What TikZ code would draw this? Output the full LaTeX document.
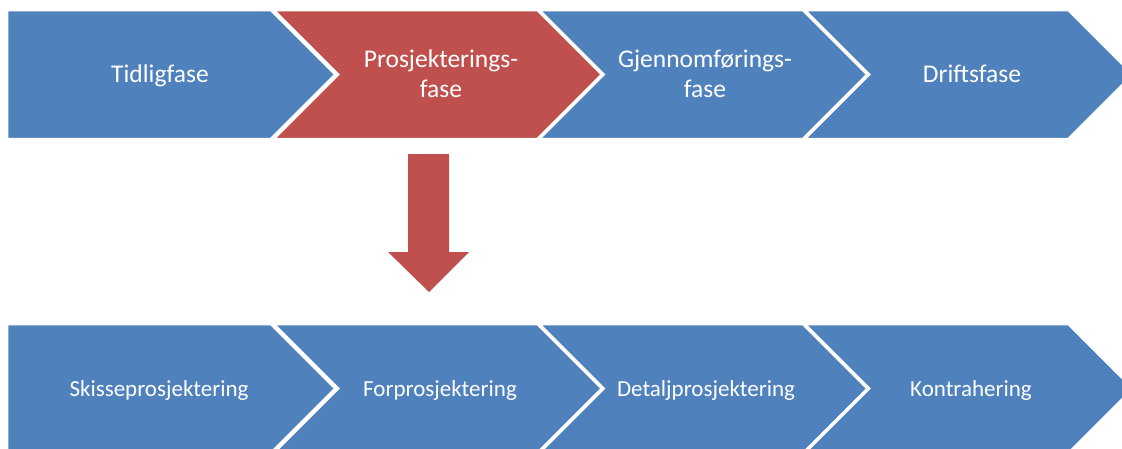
\documentclass[tikz,border=0pt]{standalone}
\usepackage{fontspec}
\setmainfont{Carlito}
\definecolor{phaseblue}{HTML}{4F81BD}
\definecolor{phasered}{HTML}{C0504D}
\begin{document}
\begin{tikzpicture}[x=1pt,y=-1pt,
  chev/.style={fill=#1, draw=white, line width=2.5pt, line join=miter},
  toplabel/.style={text=white, font=\fontsize{25.5}{29.5}\selectfont, align=center, anchor=base, inner sep=0pt},
  botlabel/.style={text=white, font=\fontsize{23}{27}\selectfont, anchor=base, inner sep=0pt}]
\useasboundingbox (0,0) rectangle (1122,448);
\clip (0,0) rectangle (1122,448);
% chevron outlines: body width 264, point depth 64.5, height 129
\def\chevbody#1#2{(#1,#2) -- ++(264,0) -- ++(64.5,64.5) -- ++(-64.5,64.5) -- ++(-264,0) -- ++(64.5,-64.5) -- cycle}
\def\homebody#1#2{(#1,#2) -- ++(264,0) -- ++(64.5,64.5) -- ++(-64.5,64.5) -- ++(-264,0) -- cycle}

% upper row: project phases
\path[chev=phaseblue] \homebody{7}{10};
\path[chev=phasered]  \chevbody{273.5}{10};
\path[chev=phaseblue] \chevbody{539}{10};
\path[chev=phaseblue] \chevbody{804.5}{10};

% lower row: design stages
\path[chev=phaseblue] \homebody{7}{324};
\path[chev=phaseblue] \chevbody{273.5}{324};
\path[chev=phaseblue] \chevbody{539}{324};
\path[chev=phaseblue] \chevbody{804.5}{324};

% block arrow from the design phase down to its stages
\fill[phasered] (408,154) -- (449,154) -- (449,252) -- (469,252) -- (429,292)
  -- (388,252) -- (408,252) -- cycle;

% two-line labels are anchored on the baseline of their last line
\node[toplabel] (tidlig) at (160,82.7) {Tidligfase};
\node[toplabel] (prosj)  at (441,97)   {Prosjekterings-\\fase};
\node[toplabel] (gjenn)  at (705,97)   {Gjennomførings-\\fase};
\node[toplabel] (drift)  at (972,82.7) {Driftsfase};

\node[botlabel] (skisse) at (159,396.5) {Skisseprosjektering};
\node[botlabel] (forpr)  at (440,396.5) {Forprosjektering};
\node[botlabel] (detalj) at (706,396.5) {Detaljprosjektering};
\node[botlabel] (kontr)  at (971,396.5) {Kontrahering};
\end{tikzpicture}
\end{document}
